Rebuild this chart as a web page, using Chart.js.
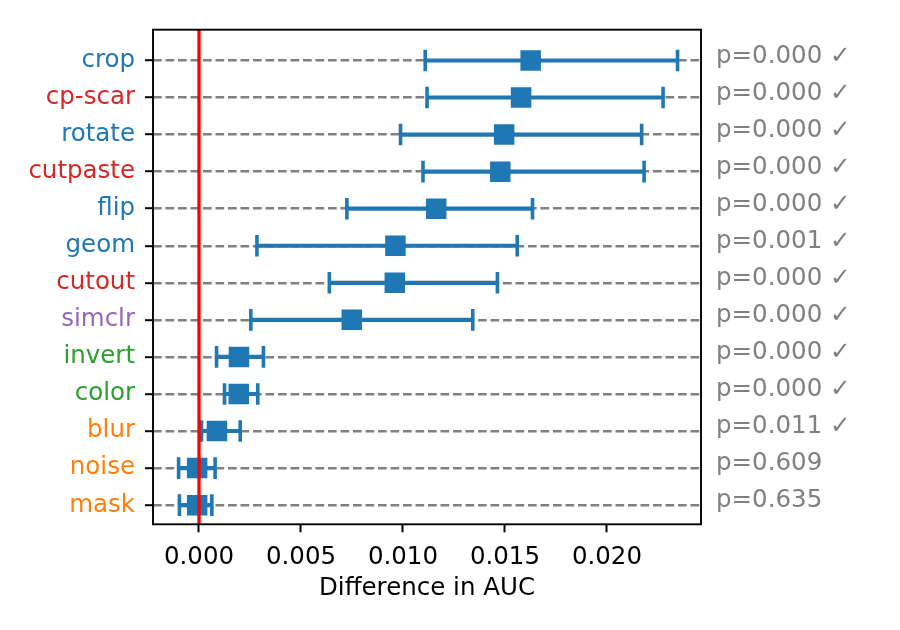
<!DOCTYPE html>
<html>
<head>
<meta charset="utf-8">
<script src="https://cdn.jsdelivr.net/npm/chart.js@4"></script>
<style>
  html, body { margin: 0; padding: 0; background: #fff; }
  #wrap { width: 900px; height: 630px; }
</style>
</head>
<body>
<div id="wrap"><canvas id="chart" width="900" height="630"></canvas></div>
<script>
'use strict';

// augmentations, top to bottom
const methods = [
    'crop', 'cp-scar', 'rotate', 'cutpaste', 'flip', 'geom', 'cutout',
    'simclr', 'invert', 'color', 'blur', 'noise', 'mask'
];

// mean difference in AUC and the interval ends
const meanDiff = [
    0.01626, 0.01579, 0.01496, 0.01477, 0.01163, 0.00963, 0.00960,
    0.00749, 0.00196, 0.00195, 0.00088, -0.00009, -0.00009
];
const lowerCI = [
    0.01109, 0.01118, 0.00988, 0.01098, 0.00725, 0.00284, 0.00639,
    0.00254, 0.00086, 0.00125, 0.00012, -0.00100, -0.00096
];
const upperCI = [
    0.02346, 0.02275, 0.02170, 0.02182, 0.01635, 0.01560, 0.01463,
    0.01342, 0.00316, 0.00288, 0.00202, 0.00079, 0.00063
];

const pValues = [
    0.000, 0.000, 0.000, 0.000, 0.000, 0.001, 0.000,
    0.000, 0.000, 0.000, 0.011, 0.609, 0.635
];

const xTicks = [0, 0.005, 0.010, 0.015, 0.020];

// label colours by augmentation family
const labelColors = [
    '#1f77b4', '#d62728', '#1f77b4', '#d62728', '#1f77b4', '#1f77b4', '#d62728',
    '#9467bd', '#2ca02c', '#2ca02c', '#ff7f0e', '#ff7f0e', '#ff7f0e'
];

const n = methods.length;
const rowOf = i => n - 1 - i;   // crop on top
const pLabels = pValues.map(p => 'p=' + p.toFixed(3) + (p < 0.05 ? ' \u2713' : ''));

const blue = '#1f77b4';
const fontSize = 24.5;
const font = { family: 'DejaVu Sans', size: fontSize };
const yMin = -0.517;
const yMax = 12.83;
const yShift = 0.11;   // p-value text sits a little above the row line

const zeroLine = {
    id: 'zeroLine',
    afterDatasetsDraw(chart) {
        const { ctx, chartArea, scales } = chart;
        const x = scales.x.getPixelForValue(0);
        ctx.save();
        ctx.strokeStyle = '#ff0000';
        ctx.lineWidth = 3.3;
        ctx.beginPath();
        ctx.moveTo(x, chartArea.top);
        ctx.lineTo(x, chartArea.bottom);
        ctx.stroke();
        ctx.restore();
    }
};

const frame = {
    id: 'frame',
    afterDraw(chart) {
        const { ctx, chartArea } = chart;
        ctx.save();
        ctx.strokeStyle = '#000';
        ctx.lineWidth = 1.9;
        ctx.strokeRect(chartArea.left, chartArea.top,
            chartArea.right - chartArea.left, chartArea.bottom - chartArea.top);
        ctx.restore();
    }
};

const rowTicks = scale => {
    scale.ticks = methods.map((m, i) => ({ value: rowOf(i) }));
};

new Chart(document.getElementById('chart'), {
    type: 'scatter',
    data: {
        datasets: [
            {
                type: 'scatter',
                order: 0,
                data: methods.map((m, i) => ({ x: meanDiff[i], y: rowOf(i) })),
                pointStyle: 'rect',
                pointRadius: 14.5,
                backgroundColor: blue,
                borderWidth: 0
            },
            {
                type: 'scatter',
                order: 1,
                data: methods.map((m, i) => ({ x: lowerCI[i], y: rowOf(i) }))
                    .concat(methods.map((m, i) => ({ x: upperCI[i], y: rowOf(i) }))),
                pointStyle: 'line',
                rotation: 90,
                pointRadius: 10.8,
                borderWidth: 3.6,
                borderColor: blue,
                backgroundColor: blue
            },
            {
                type: 'bar',
                order: 2,
                indexAxis: 'y',
                data: methods.map((m, i) => ({ x: [lowerCI[i], upperCI[i]], y: rowOf(i) })),
                barThickness: 3.5,
                backgroundColor: blue,
                borderWidth: 0
            }
        ]
    },
    options: {
        responsive: false,
        animation: false,
        layout: { padding: { top: 25.7, left: 0, right: 0, bottom: 0 } },
        plugins: {
            legend: { display: false },
            tooltip: { enabled: false }
        },
        scales: {
            x: {
                type: 'linear',
                position: 'bottom',
                offset: false,
                min: -0.002255,
                max: 0.02461,
                afterBuildTicks: scale => { scale.ticks = xTicks.map(v => ({ value: v })); },
                afterFit: scale => { scale.height = 105.7; },
                grid: {
                    offset: false,
                    drawOnChartArea: false,
                    tickLength: 8,
                    tickWidth: 2,
                    tickColor: '#000'
                },
                border: { display: false },
                ticks: {
                    font: font,
                    color: '#000',
                    padding: 11,
                    maxRotation: 0,
                    callback: v => v.toFixed(3)
                },
                title: {
                    display: true,
                    text: 'Difference in AUC',
                    font: font,
                    color: '#000',
                    padding: { top: 0, bottom: 27 }
                }
            },
            y: {
                type: 'linear',
                position: 'left',
                offset: false,
                min: yMin,
                max: yMax,
                afterBuildTicks: rowTicks,
                afterFit: scale => { scale.width = 153; },
                grid: {
                    offset: false,
                    color: '#808080',
                    lineWidth: 2.4,
                    tickLength: 8,
                    tickWidth: 2,
                    tickColor: '#000',
                    tickBorderDash: []
                },
                border: { display: false, dash: [8.7, 3.8] },
                ticks: {
                    font: font,
                    padding: 10,
                    color: ctx => labelColors[n - 1 - ctx.tick.value],
                    callback: v => methods[n - 1 - v]
                }
            },
            y2: {
                type: 'linear',
                position: 'right',
                offset: false,
                min: yMin - yShift,
                max: yMax - yShift,
                afterBuildTicks: rowTicks,
                afterFit: scale => { scale.width = 199; },
                grid: { display: false, drawTicks: false, tickLength: 0, offset: false },
                border: { display: false },
                ticks: {
                    font: font,
                    padding: 15,
                    color: '#808080',
                    callback: v => pLabels[n - 1 - v]
                }
            }
        }
    },
    plugins: [zeroLine, frame]
});
</script>
</body>
</html>
